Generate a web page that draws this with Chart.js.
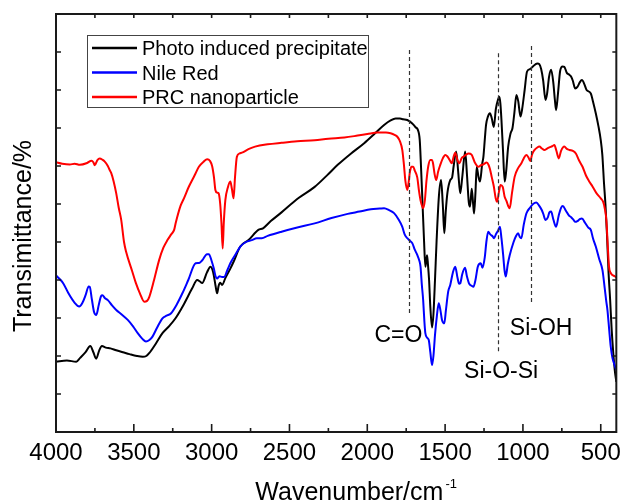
<!DOCTYPE html>
<html>
<head>
<meta charset="utf-8">
<script src="https://cdn.jsdelivr.net/npm/chart.js@4.4.1/dist/chart.umd.min.js"></script>
<style>
html,body{margin:0;padding:0;background:#fff;}
canvas{display:block;}
</style>
</head>
<body>
<canvas id="c" width="628" height="503"></canvas>
<script>
// ---------- data (wavenumber in cm^-1, transmittance in arbitrary units) ----------
const seriesNames = ['Photo induced precipitate', 'Nile Red', 'PRC nanoparticle'];
const seriesColors = ['#000000', '#0000ff', '#ff0000'];

const blackWn = [4000,3930,3870,3845,3810,3780,3760,3742,3722,3705,3680,3650,3613,3570,3528,3480,3443,3420,3400,3358,3316,3270,3231,3180,3125,3093,3075,3061,3030,3007,2990,2975,2965,2955,2945,2933,2912,2880,2859,2816,2763,2700,2670,2620,2551,2444,2338,2257,2190,2104,2020,1950,1892,1850,1818,1790,1770,1743,1711,1690,1675,1663,1655,1645,1635,1627,1620,1616,1610,1603,1595,1584,1575,1565,1555,1540,1526,1515,1505,1496,1485,1467,1455,1445,1429,1415,1403,1390,1371,1360,1348,1340,1329,1320,1314,1305,1297,1285,1276,1262,1254,1245,1237,1225,1212,1200,1187,1174,1160,1152,1145,1138,1128,1117,1108,1095,1080,1067,1055,1042,1030,1016,1005,989,974,955,936,908,895,883,870,855,845,832,819,805,795,787,775,761,745,734,718,702,690,680,664,650,635,621,605,591,564,550,532,515,500,490,479,470,460,450,440,430,420,410,400];
const blackT  = [18.5,18.8,18.5,19.5,21,22.6,21,19.3,21.5,22.6,22.2,22,21.5,21,20.5,20,19.8,20,20.8,23.3,26,28,30,33.5,37.8,40,39.6,39.2,42,43.5,42,38.5,36.5,38.5,39.3,38.7,40.5,43,44.8,48.8,50.5,53.2,53.6,55.5,57.8,61.5,64.5,67.6,70.3,73.3,76,78.6,80.8,82,82.5,82.5,82.3,82.1,81.2,80.2,79.5,76.8,70,60,50,43.5,45.5,46.5,44,40,33,27.5,31,40,50,62,66.3,60,52.3,58,63,66.3,67,70,73.8,68,62.8,67,73.8,68,60.5,59.3,64,60,57.5,63,69.8,67,65.9,70.5,72.4,77,80.8,83,83.9,82.5,80.3,85,87.5,88.2,86.5,82.1,74,65.9,68.5,75,78.5,80,84,88.7,87,83,85,90,94.8,95.5,96.2,97,96.8,95.5,92.5,87.4,89,93.5,95.3,92,87.5,84.7,89,95,96.2,96.1,94.5,94,93.5,92.5,90.4,90.8,92,92.6,91.5,90,89.1,87,83.9,80.5,76.8,73,65.4,60,52,42,35,27,21,16.3,13.2];

const blueWn = [4000,3970,3953,3920,3880,3851,3830,3810,3790,3783,3770,3755,3741,3725,3710,3702,3685,3667,3640,3613,3580,3539,3505,3475,3445,3422,3400,3380,3350,3316,3290,3262,3225,3188,3150,3103,3080,3060,3030,3018,3000,2986,2975,2965,2950,2933,2920,2900,2880,2850,2816,2780,2742,2710,2678,2640,2551,2450,2338,2230,2126,2050,1977,1920,1892,1860,1828,1800,1775,1760,1743,1725,1711,1695,1679,1665,1658,1650,1641,1633,1627,1615,1605,1595,1584,1575,1565,1553,1541,1530,1520,1505,1495,1480,1467,1450,1435,1420,1410,1403,1390,1372,1360,1345,1330,1318,1305,1290,1271,1260,1245,1235,1223,1210,1195,1185,1174,1160,1148,1138,1128,1118,1110,1098,1085,1060,1045,1031,1020,1010,995,978,955,935,914,895,880,870,855,840,830,819,805,787,770,755,744,725,705,690,675,664,650,635,621,600,580,564,550,532,510,489,475,465,457,446,436,425,415,400];
const blueT  = [41.2,40,39.1,36.5,34,33,34,36,38.3,38.2,35,31.5,30.8,33.5,35.8,36,35.2,34.7,33.3,32.1,31,29.5,27.8,26,24.5,23.8,24.2,25.1,27.5,29.9,30.6,31.2,33.5,36.5,40,44.4,44.5,45.2,46.8,46.8,45,43,41,40.4,41,40.8,40.8,42.5,44.4,46.5,48.8,50,50.5,51,51,51.6,52.7,53.8,54.9,56.3,57.4,58,58.6,58.8,58.9,58.4,57.6,56,54,52,51,50.3,49.7,48,46.6,45,43.5,39,34.7,29,26,24.8,24.2,21,17.6,20,25.5,30.5,33.9,32,29.5,28.6,32,37,38.7,42,43.5,40.5,39,39.1,41.5,43.2,41,39,38.5,38.2,40,43.5,44.4,43.2,46,50,52.7,52,51.5,51,52,53,54,51,47,42.5,40.9,44,46.5,50,51.5,52.3,51.3,51,54.5,57.5,59,60,60.4,59.5,58.5,57.5,55.8,56.5,57.8,58,56,54,57,59,59.5,58.3,57,56.5,55.8,55.3,55.5,56,56.2,55,53.8,53.2,51,48.8,45.5,42.6,38,34.5,32.1,27,22.5,19.5,18.1,16.3];

const redWn = [4000,3960,3911,3880,3847,3800,3772,3760,3751,3735,3719,3700,3688,3667,3656,3645,3630,3613,3597,3581,3563,3550,3512,3486,3461,3433,3415,3401,3370,3337,3310,3284,3260,3241,3231,3200,3178,3146,3110,3082,3050,3029,3010,2997,2985,2976,2965,2955,2945,2937,2929,2922,2912,2895,2880,2870,2859,2850,2838,2820,2806,2760,2721,2640,2551,2450,2338,2250,2147,2062,2000,1934,1880,1850,1825,1807,1790,1775,1765,1755,1743,1735,1726,1716,1705,1695,1679,1668,1658,1641,1630,1620,1608,1595,1585,1578,1568,1557,1545,1531,1515,1499,1485,1470,1457,1445,1435,1420,1408,1395,1380,1365,1350,1330,1310,1286,1270,1255,1233,1220,1212,1200,1187,1175,1166,1155,1144,1130,1118,1106,1095,1085,1070,1053,1030,1010,995,978,965,953,940,926,910,894,878,862,845,830,812,798,785,770,755,734,718,700,680,660,640,617,595,575,553,530,500,485,475,464,455,447,435,425,410,400];
const redT  = [71,70.6,70.4,70.6,70.3,70.8,71.4,71,70.2,71.5,72,71.6,71.2,70,69,68.1,66,62.8,59,55.8,50,47.5,42.5,39.1,36.5,34.3,34.5,35.5,40,45.3,48.5,50.5,52,53.2,55,59.5,61.5,64.6,67.5,69.8,71.2,71.8,71.3,70,67,63.7,63,62.8,60,55,48.3,55,61,64.5,65.9,64,61.5,67,72.4,73.3,73.5,74.5,75.1,75.7,76.1,76.5,76.8,77.2,77.5,78,78.4,78.8,78.8,78.6,78.2,77.7,76.5,74.2,70.5,66,63.7,65.5,68.5,69.8,69.8,68.8,67,63.5,61,58.9,61,66,70,71.6,71.6,70.8,68,66.3,68.5,70.3,72,72.9,72.5,71.5,70.7,72.5,73.5,71.5,70.7,72,72.5,73,73.3,73,71,69.8,70.2,70.4,70.9,70.2,69.2,67,64.6,61.5,60.6,63,65,64.5,62,60.8,59.5,58.9,63,67.2,69.5,70.7,72,72.9,72.3,71.3,73.2,74.2,74.8,75.1,74.6,74.2,74.6,74.9,75.2,75.5,74,72,74,75.1,74.5,74.2,74,73.3,71.5,69.8,67.5,66,64.6,63,61.5,60.6,59,55.8,49,43.5,41.8,41.3,41,40.6];

// axis settings
const xMin = 400, xMax = 4000, xMinorStep = 250, xMajorStep = 500;
const yMin = 0, yMax = 110, yStep = 10;

// band assignment markers (dashed lines) and labels
const markerWn     = [1735, 1160, 945];
const markerTop    = [100.5, 99.7, 101.6];
const markerBottom = [30.8, 21.0, 33.4];
const bandLabels   = ['C=O', 'Si-O-Si', 'Si-OH'];
const bandLabelWn  = [1800, 1140, 883];
const bandLabelT   = [23.8, 14.2, 25.5];

const xTitle = 'Wavenumber/cm';
const xTitleSup = '-1';
const yTitle = 'Transimittance/%';

// ---------- chart ----------
const FONT = "'Liberation Sans', Arial, Helvetica, sans-serif";
function pts(xs, ys){ return xs.map((v,i)=>({x:v, y:ys[i]})); }

const overlay = {
  id: 'overlay',
  afterDatasetsDraw(chart){
    const {ctx, chartArea:a, scales:{x, y}} = chart;
    ctx.save();
    // dashed marker lines
    ctx.strokeStyle = '#333'; ctx.lineWidth = 1.2; ctx.setLineDash([4,3]);
    markerWn.forEach((w,i)=>{
      const px = Math.round(x.getPixelForValue(w)) + 0.5;
      ctx.beginPath();
      ctx.moveTo(px, y.getPixelForValue(markerTop[i]));
      ctx.lineTo(px, y.getPixelForValue(markerBottom[i]));
      ctx.stroke();
    });
    ctx.setLineDash([]);
    // band labels
    ctx.fillStyle = '#000';
    ctx.font = '23px ' + FONT;
    ctx.textAlign = 'center'; ctx.textBaseline = 'alphabetic';
    bandLabels.forEach((t,i)=>{
      ctx.fillText(t, x.getPixelForValue(bandLabelWn[i]), y.getPixelForValue(bandLabelT[i]));
    });
    // frame
    ctx.strokeStyle = '#1a1a1a'; ctx.lineWidth = 2;
    ctx.strokeRect(a.left, a.top, a.right - a.left, a.bottom - a.top);
    // inward ticks
    ctx.lineWidth = 1.6;
    ctx.beginPath();
    x.ticks.forEach(t=>{
      const px = x.getPixelForValue(t.value);
      const major = t.value % xMajorStep === 0;
      ctx.moveTo(px, a.bottom); ctx.lineTo(px, a.bottom - (major ? 8 : 4));
      ctx.moveTo(px, a.top); ctx.lineTo(px, a.top + 4);
    });
    y.ticks.forEach(t=>{
      const py = y.getPixelForValue(t.value);
      ctx.moveTo(a.left, py); ctx.lineTo(a.left + 5, py);
      ctx.moveTo(a.right, py); ctx.lineTo(a.right - 4, py);
    });
    ctx.stroke();
    // legend
    const lx = 87.5, ly = 35.5, lw = 281, lh = 72;
    ctx.fillStyle = '#fff'; ctx.fillRect(lx, ly, lw, lh);
    ctx.strokeStyle = '#444'; ctx.lineWidth = 1; ctx.strokeRect(lx, ly, lw, lh);
    ctx.font = '20px ' + FONT; ctx.textAlign = 'left'; ctx.textBaseline = 'alphabetic';
    seriesNames.forEach((n,i)=>{
      const base = 55 + i*24.5;
      ctx.strokeStyle = seriesColors[i]; ctx.lineWidth = 2.5;
      ctx.beginPath(); ctx.moveTo(92, base - 7); ctx.lineTo(137, base - 7); ctx.stroke();
      ctx.fillStyle = '#000'; ctx.fillText(n, 142, base);
    });
    // x title with superscript
    ctx.fillStyle = '#000';
    ctx.font = '25px ' + FONT;
    const w1 = ctx.measureText(xTitle).width;
    ctx.font = '13px ' + FONT;
    const w2 = ctx.measureText(xTitleSup).width;
    const cx = (a.left + a.right)/2 + 20;
    const sx = cx - (w1 + w2 + 2)/2;
    ctx.font = '25px ' + FONT; ctx.textAlign = 'left';
    ctx.fillText(xTitle, sx, 500);
    ctx.font = '13px ' + FONT;
    ctx.fillText(xTitleSup, sx + w1 + 2, 488);
    // y title
    ctx.translate(31, 236); ctx.rotate(-Math.PI/2);
    ctx.font = '25px ' + FONT; ctx.textAlign = 'center'; ctx.textBaseline = 'alphabetic';
    ctx.fillText(yTitle, 0, 0);
    ctx.restore();
  }
};

new Chart(document.getElementById('c'), {
  type: 'line',
  data: {
    datasets: [
      {label: seriesNames[0], data: pts(blackWn, blackT), borderColor: seriesColors[0], order: 3},
      {label: seriesNames[1], data: pts(blueWn, blueT), borderColor: seriesColors[1], order: 2},
      {label: seriesNames[2], data: pts(redWn, redT), borderColor: seriesColors[2], order: 1}
    ]
  },
  options: {
    responsive: false,
    animation: false,
    devicePixelRatio: 1,
    layout: {padding: {left: 0, right: 8, top: 14, bottom: 0}},
    elements: {
      point: {radius: 0, hoverRadius: 0},
      line: {borderWidth: 2, cubicInterpolationMode: 'monotone', fill: false}
    },
    plugins: {legend: {display: false}, tooltip: {enabled: false}, title: {display: false}},
    events: [],
    scales: {
      x: {
        type: 'linear', reverse: true, min: xMin, max: xMax,
        grid: {display: false, drawTicks: false},
        border: {display: false},
        ticks: {
          stepSize: xMinorStep, includeBounds: false, autoSkip: false, maxRotation: 0, minRotation: 0,
          padding: 7, color: '#000', font: {family: FONT, size: 24},
          callback: v => (v % xMajorStep === 0 ? String(v) : '')
        },
        afterFit: s => { s.height = 71; }
      },
      y: {
        type: 'linear', min: yMin, max: yMax,
        grid: {display: false, drawTicks: false},
        border: {display: false},
        ticks: {display: false, stepSize: yStep},
        afterFit: s => { s.width = 56; }
      }
    }
  },
  plugins: [overlay]
});
</script>
</body>
</html>
